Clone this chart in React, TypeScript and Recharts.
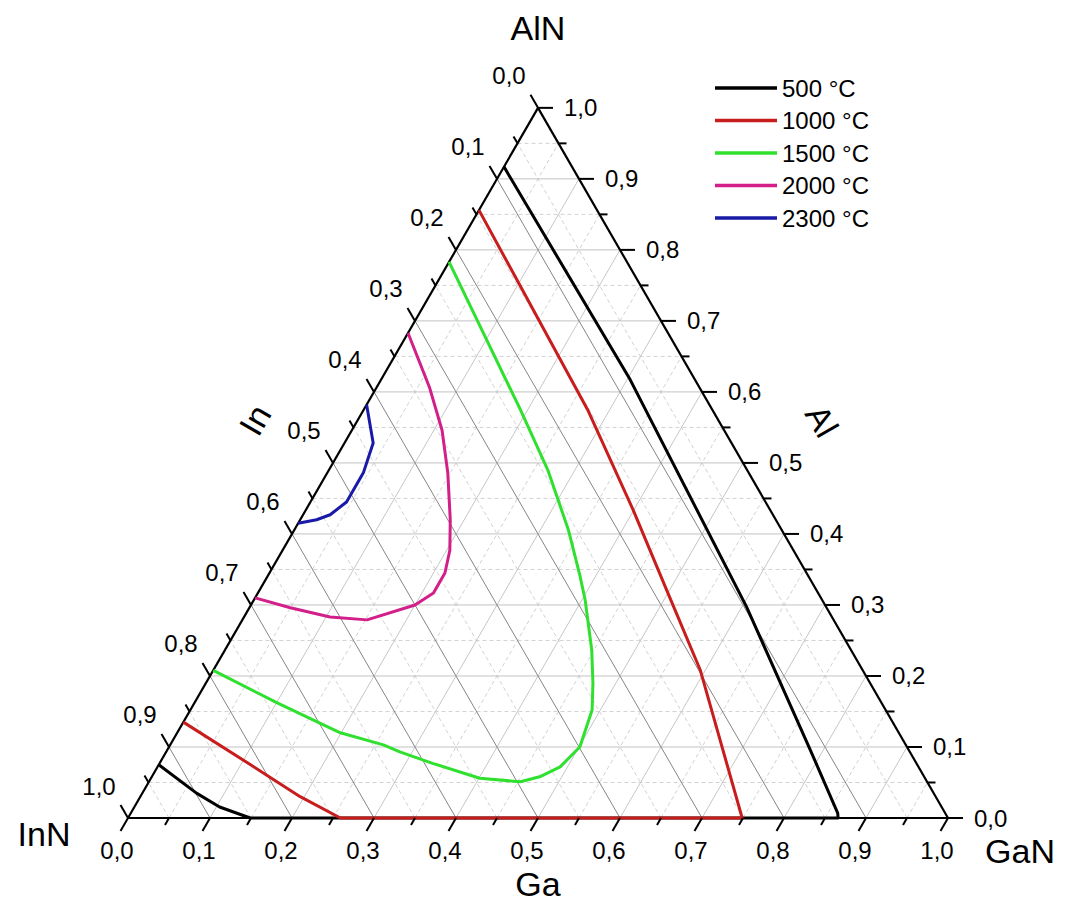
import React from 'react';
import { ComposedChart, Scatter, XAxis, YAxis, ReferenceLine, Legend } from 'recharts';

// ternary layout: x = Ga + Al/2, y = Al * sqrt(3)/2
const S3 = Math.sqrt(3) / 2;
const W = 1050;
const H = 900;
const PX = 820; // pixels per unit side
const OX = 120; // InN corner inside the chart
const OY = 810;

const MAJOR = [0, 0.1, 0.2, 0.3, 0.4, 0.5, 0.6, 0.7, 0.8, 0.9, 1.0];
const MINOR = [0.05, 0.15, 0.25, 0.35, 0.45, 0.55, 0.65, 0.75, 0.85, 0.95];
const TICK_LABELS = ['0,0', '0,1', '0,2', '0,3', '0,4', '0,5', '0,6', '0,7', '0,8', '0,9', '1,0'];

const CORNERS = ['InN', 'GaN', 'AlN'];
const AXIS_TITLES = ['Ga', 'Al', 'In'];

const SERIES = ['500 °C', '1000 °C', '1500 °C', '2000 °C', '2300 °C'];
const COLORS = ['#000000', '#c81d1d', '#2fe02f', '#d21f8a', '#1a1aa8'];

// isotherms as [Ga, Al] pairs (In = 1 - Ga - Al)
const T500 = [
  [0.0, 0.917], [0.304, 0.617], [0.606, 0.297], [0.784, 0.096], [0.862, 0.007], [0.866, 0.0],
  [0.149, 0.0], [0.104, 0.0155], [0.066, 0.035], [0.0, 0.075],
];
const T1000 = [
  [0.0, 0.856], [0.273, 0.575], [0.399, 0.434], [0.505, 0.311], [0.594, 0.208], [0.749, 0.0],
  [0.259, 0.0], [0.195, 0.03], [0.112, 0.075], [0.0, 0.135],
];
const T1500 = [
  [0.0, 0.783], [0.191, 0.575], [0.267, 0.49], [0.334, 0.406], [0.38, 0.342], [0.404, 0.307],
  [0.447, 0.237], [0.472, 0.19], [0.49, 0.152], [0.501, 0.1], [0.491, 0.072], [0.473, 0.058],
  [0.453, 0.051], [0.401, 0.056], [0.333, 0.077], [0.285, 0.093], [0.26, 0.103], [0.199, 0.12],
  [0.101, 0.162], [0.0, 0.208],
];
const T2000 = [
  [0.0, 0.683], [0.064, 0.607], [0.11, 0.546], [0.147, 0.486], [0.183, 0.42], [0.204, 0.377],
  [0.214, 0.345], [0.214, 0.317], [0.2, 0.3], [0.152, 0.279], [0.105, 0.283], [0.05, 0.296],
  [0.0, 0.31],
];
const T2300 = [
  [0.0, 0.582], [0.035, 0.528], [0.044, 0.486], [0.044, 0.445], [0.033, 0.427], [0.02, 0.42],
  [0.0, 0.415],
];
const CURVES = [T500, T1000, T1500, T2000, T2300];

const FONT = '"Liberation Sans", Arial, sans-serif';

const toXY = (ga: number, al: number) => ({ x: ga + al / 2, y: al * S3 });

const Nothing = () => <g />;

const tickShape = (dx: number, dy: number, len: number) => (p: any) => (
  <line x1={p.cx} y1={p.cy} x2={p.cx + dx * len} y2={p.cy + dy * len} stroke="#000" strokeWidth={2} />
);

const textShape = (dx: number, dy: number, anchor: string, size: number, rot = 0) => (p: any) => {
  const x = p.cx + dx;
  const y = p.cy + dy;
  return (
    <text
      x={x}
      y={y}
      textAnchor={anchor}
      dominantBaseline="central"
      fontSize={size}
      fontFamily={FONT}
      fill="#000"
      transform={rot ? `rotate(${rot} ${x} ${y})` : undefined}
    >
      {p.payload.label}
    </text>
  );
};

// points on the three edges for a given fraction
const bottomPt = (v: number) => toXY(v, 0); // Ga = v
const rightPt = (v: number) => toXY(1 - v, v); // Al = v
const leftPt = (v: number) => toXY(0, 1 - v); // In = v

const seg = (a: number[], b: number[]) => {
  const p = toXY(a[0], a[1]);
  const q = toXY(b[0], b[1]);
  return [{ x: p.x, y: p.y }, { x: q.x, y: q.y }];
};

const inner = MAJOR.filter((v) => v > 0 && v < 1);

const LegendBox = () => (
  <svg width={260} height={185}>
    {SERIES.map((s, i) => (
      <g key={s}>
        <line x1={0} x2={62} y1={18 + i * 32.5} y2={18 + i * 32.5} stroke={COLORS[i]} strokeWidth={3.5} />
        <text x={67} y={18 + i * 32.5} dominantBaseline="central" fontSize={24} fontFamily={FONT}>
          {s}
        </text>
      </g>
    ))}
  </svg>
);

export default function App() {
  const gridLine = (key: string, s: any, color: string, dash?: string) => (
    <ReferenceLine key={key} segment={s} stroke={color} strokeWidth={1} strokeDasharray={dash} ifOverflow="visible" />
  );

  return (
    <ComposedChart width={W} height={H} margin={{ top: 0, right: 0, bottom: 0, left: 0 }}>
      <XAxis type="number" dataKey="x" hide allowDataOverflow domain={[-OX / PX, (W - OX) / PX]} />
      <YAxis type="number" dataKey="y" hide allowDataOverflow domain={[-(H - OY) / PX, OY / PX]} />

      {/* minor grid, dashed */}
      {MINOR.map((v) => gridLine(`ma${v}`, seg([0, v], [1 - v, v]), '#d2d2d2', '4 3'))}
      {MINOR.map((v) => gridLine(`mg${v}`, seg([v, 0], [v, 1 - v]), '#d2d2d2', '4 3'))}
      {MINOR.map((v) => gridLine(`mi${v}`, seg([1 - v, 0], [0, 1 - v]), '#d2d2d2', '4 3'))}
      {/* major grid */}
      {inner.map((v) => gridLine(`a${v}`, seg([0, v], [1 - v, v]), '#c2c2c2'))}
      {inner.map((v) => gridLine(`g${v}`, seg([v, 0], [v, 1 - v]), '#c6c6c6'))}
      {inner.map((v) => gridLine(`i${v}`, seg([1 - v, 0], [0, 1 - v]), '#858585'))}

      {/* triangle edges */}
      <ReferenceLine segment={seg([0, 0], [1, 0])} stroke="#000" strokeWidth={2.2} ifOverflow="visible" />
      <ReferenceLine segment={seg([1, 0], [0, 1])} stroke="#000" strokeWidth={2.2} ifOverflow="visible" />
      <ReferenceLine segment={seg([0, 1], [0, 0])} stroke="#000" strokeWidth={2.2} ifOverflow="visible" />

      {CURVES.map((c, i) => (
        <Scatter
          key={SERIES[i]}
          name={SERIES[i]}
          data={c.map(([ga, al]) => toXY(ga, al))}
          fill={COLORS[i]}
          line={{ stroke: COLORS[i], strokeWidth: 3, strokeLinejoin: 'round' }}
          lineType="joint"
          shape={Nothing}
          isAnimationActive={false}
        />
      ))}

      {/* ticks */}
      <Scatter data={MAJOR.map(bottomPt)} shape={tickShape(-0.5, S3, 15)} isAnimationActive={false} legendType="none" />
      <Scatter data={MINOR.map(bottomPt)} shape={tickShape(-0.5, S3, 8)} isAnimationActive={false} legendType="none" />
      <Scatter data={MAJOR.map(rightPt)} shape={tickShape(1, 0, 15)} isAnimationActive={false} legendType="none" />
      <Scatter data={MINOR.map(rightPt)} shape={tickShape(1, 0, 8)} isAnimationActive={false} legendType="none" />
      <Scatter data={MAJOR.map(leftPt)} shape={tickShape(-0.5, -S3, 15)} isAnimationActive={false} legendType="none" />
      <Scatter data={MINOR.map(leftPt)} shape={tickShape(-0.5, -S3, 8)} isAnimationActive={false} legendType="none" />

      {/* tick labels */}
      <Scatter
        data={MAJOR.map((v, i) => ({ ...bottomPt(v), label: TICK_LABELS[i] }))}
        shape={textShape(-11, 32, 'middle', 24)}
        isAnimationActive={false}
        legendType="none"
      />
      <Scatter
        data={MAJOR.map((v, i) => ({ ...rightPt(v), label: TICK_LABELS[i] }))}
        shape={textShape(26, 0, 'start', 24)}
        isAnimationActive={false}
        legendType="none"
      />
      <Scatter
        data={MAJOR.map((v, i) => ({ ...leftPt(v), label: TICK_LABELS[i] }))}
        shape={textShape(-29, -32, 'middle', 24)}
        isAnimationActive={false}
        legendType="none"
      />

      {/* corner names */}
      <Scatter data={[{ ...toXY(0, 0), label: CORNERS[0] }]} shape={textShape(-84, 16, 'middle', 34)} isAnimationActive={false} legendType="none" />
      <Scatter data={[{ ...toXY(1, 0), label: CORNERS[1] }]} shape={textShape(72, 33, 'middle', 34)} isAnimationActive={false} legendType="none" />
      <Scatter data={[{ ...toXY(0, 1), label: CORNERS[2] }]} shape={textShape(0, -80, 'middle', 34)} isAnimationActive={false} legendType="none" />

      {/* axis titles */}
      <Scatter data={[{ ...toXY(0.5, 0), label: AXIS_TITLES[0] }]} shape={textShape(0, 66, 'middle', 34)} isAnimationActive={false} legendType="none" />
      <Scatter data={[{ ...toXY(0.5, 0.5), label: AXIS_TITLES[1] }]} shape={textShape(79, -42, 'middle', 34, 60)} isAnimationActive={false} legendType="none" />
      <Scatter data={[{ ...toXY(0, 0.5), label: AXIS_TITLES[2] }]} shape={textShape(-78, -43, 'middle', 34, -60)} isAnimationActive={false} legendType="none" />

      <Legend
        layout="vertical"
        align="center"
        verticalAlign="middle"
        content={() => <LegendBox />}
        wrapperStyle={{ left: 707, top: 62, width: 260, height: 185 }}
      />
    </ComposedChart>
  );
}
